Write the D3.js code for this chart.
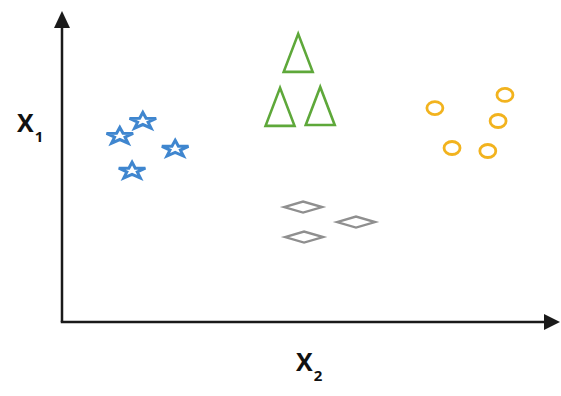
<!DOCTYPE html>
<html><head><meta charset="utf-8">
<script src="https://cdn.jsdelivr.net/npm/d3@7"></script>
<style>html,body{margin:0;padding:0;background:#fff;}svg{display:block;}</style>
</head><body>
<script>
// Data (x2 = horizontal feature, x1 = vertical feature), units 0..100
const starsX2 = [16.5, 11.8, 23.1, 14.3];
const starsX1 = [67.3, 62.3, 58.0, 50.7];
const triX2 = [48.2, 44.5, 52.7];
const triX1 = [89.7, 71.7, 72.0];
const circX2 = [76.1, 90.4, 89.0, 79.6, 86.9];
const circX1 = [71.3, 75.7, 67.0, 58.0, 57.0];
const diaX2 = [49.2, 60.0, 49.4];
const diaX1 = [38.3, 33.3, 28.3];

const W = 561, H = 396;
const svg = d3.select("body").append("svg").attr("width", W).attr("height", H);
const x = d3.scaleLinear().domain([0, 100]).range([62, 552]);
const y = d3.scaleLinear().domain([0, 100]).range([322, 22]);

// axes
const axisColor = "#1a1a1a";
svg.append("line").attr("x1", x(0)).attr("y1", y(0)).attr("x2", x(0)).attr("y2", 24)
  .attr("stroke", axisColor).attr("stroke-width", 2.5);
svg.append("path").attr("d", `M${x(0)},11 L${x(0)-8},28 L${x(0)+8},28 Z`).attr("fill", axisColor);
svg.append("line").attr("x1", x(0)-1.25).attr("y1", y(0)).attr("x2", 548).attr("y2", y(0))
  .attr("stroke", axisColor).attr("stroke-width", 2.5);
svg.append("path").attr("d", `M560,${y(0)} L544,${y(0)-8} L544,${y(0)+8} Z`).attr("fill", axisColor);

// labels
const lab1 = svg.append("text").attr("x", 17).attr("y", 132)
  .attr("font-family", "Open Sans").attr("font-weight", 700).attr("font-size", 25).attr("fill", "#111");
lab1.append("tspan").text("X");
lab1.append("tspan").attr("font-size", 15).attr("dy", 10).attr("dx", 1).text("1");
const lab2 = svg.append("text").attr("x", 296).attr("y", 371)
  .attr("font-family", "Open Sans").attr("font-weight", 700).attr("font-size", 25).attr("fill", "#111");
lab2.append("tspan").text("X");
lab2.append("tspan").attr("font-size", 15).attr("dy", 10).attr("dx", 1).text("2");

// stars
function starPath(R, r, sy) {
  const pts = [];
  for (let i = 0; i < 10; i++) {
    const a = -Math.PI / 2 + i * Math.PI / 5;
    const rad = i % 2 === 0 ? R : r;
    pts.push([rad * Math.cos(a), rad * Math.sin(a) * sy]);
  }
  return "M" + pts.map(p => p[0].toFixed(2) + "," + p[1].toFixed(2)).join("L") + "Z";
}
const stars = starsX2.map((v, i) => ({x2: v, x1: starsX1[i]}));
svg.selectAll(".star").data(stars).enter().append("path")
  .attr("transform", d => `translate(${x(d.x2)},${y(d.x1)+1})`)
  .attr("d", starPath(14, 5.5, 0.62))
  .attr("fill", "#fff").attr("stroke", "#3f86cf").attr("stroke-width", 3).attr("stroke-linejoin", "miter");

// triangles
const tris = triX2.map((v, i) => ({x2: v, x1: triX1[i]}));
svg.selectAll(".tri").data(tris).enter().append("path")
  .attr("transform", d => `translate(${x(d.x2)},${y(d.x1)})`)
  .attr("d", "M0,-19 L-14.5,19 L14.5,19 Z")
  .attr("fill", "none").attr("stroke", "#5ea83a").attr("stroke-width", 2.6);

// circles
const circs = circX2.map((v, i) => ({x2: v, x1: circX1[i]}));
svg.selectAll(".circ").data(circs).enter().append("ellipse")
  .attr("cx", d => x(d.x2)).attr("cy", d => y(d.x1))
  .attr("rx", 8).attr("ry", 6.5)
  .attr("fill", "none").attr("stroke", "#f2b31e").attr("stroke-width", 2.8);

// diamonds
const dias = diaX2.map((v, i) => ({x2: v, x1: diaX1[i]}));
svg.selectAll(".dia").data(dias).enter().append("path")
  .attr("transform", d => `translate(${x(d.x2)},${y(d.x1)})`)
  .attr("d", "M-19,0 L0,-5.5 L19,0 L0,5.5 Z")
  .attr("fill", "none").attr("stroke", "#8f8f8f").attr("stroke-width", 2.4);
</script>
</body></html>
